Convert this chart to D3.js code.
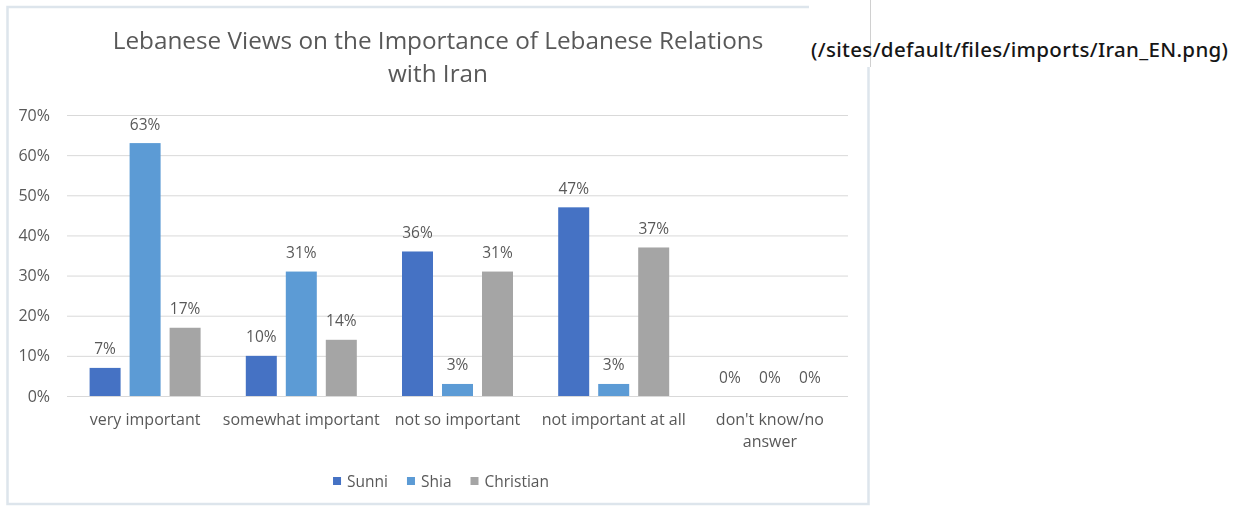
<!DOCTYPE html>
<html>
<head>
<meta charset="utf-8">
<script src="https://cdn.jsdelivr.net/npm/d3@7"></script>
<style>
  html, body { margin: 0; padding: 0; background: #fff; }
  svg { display: block; }
</style>
</head>
<body>
<svg id="chart" width="1233" height="507"></svg>
<script>
// Survey responses by sect (percent of respondents)
const categories = ["very important", "somewhat important", "not so important", "not important at all", "don't know/no answer"];
const seriesNames = ["Sunni", "Shia", "Christian"];
const sunni = [7, 10, 36, 47, 0];
const shia = [63, 31, 3, 3, 0];
const christian = [17, 14, 31, 37, 0];
const yTicks = [0, 10, 20, 30, 40, 50, 60, 70];
const seriesColors = ["#4472C4", "#5B9BD5", "#A5A5A5"];
const titleLines = ["Lebanese Views on the Importance of Lebanese Relations", "with Iran"];
const captionText = "(/sites/default/files/imports/Iran_EN.png)";

const values = [sunni, shia, christian];
const rows = categories.map((c, i) => ({
  category: c,
  items: seriesNames.map((s, j) => ({ series: s, value: values[j][i] }))
}));

const svg = d3.select("#chart");
const textColor = "#595959";
const font = "'Open Sans', 'Noto Sans', sans-serif";

// slight softening of the embedded chart image
svg.append("defs").append("filter").attr("id", "soft")
  .attr("x", "-2%").attr("y", "-2%").attr("width", "104%").attr("height", "104%")
  .append("feGaussianBlur").attr("stdDeviation", 0.45);

const chart = svg.append("g").attr("filter", "url(#soft)");

// chart frame
chart.append("rect")
  .attr("x", 7.5).attr("y", 7).attr("width", 861).attr("height", 497)
  .attr("fill", "#fff").attr("stroke", "#dde5ec").attr("stroke-width", 2.5);

const plot = { left: 67, right: 848, top: 115, bottom: 396 };

const y = d3.scaleLinear().domain([0, 70]).range([plot.bottom, plot.top]);
const x0 = d3.scaleBand().domain(categories).range([plot.left, plot.right]).padding(0);
const x1 = d3.scaleBand().domain(seriesNames).range([-60, 60]).paddingInner(0.225).paddingOuter(0.1125);
const color = d3.scaleOrdinal().domain(seriesNames).range(seriesColors);

// gridlines + y labels
const yAxis = d3.axisLeft(y).tickValues(yTicks).tickFormat(d => d + "%")
  .tickSize(-(plot.right - plot.left)).tickPadding(17);
const ya = chart.append("g").attr("transform", `translate(${plot.left},0)`).call(yAxis);
ya.select(".domain").remove();
ya.selectAll(".tick line").attr("stroke", "#d9d9d9").attr("stroke-width", 1);
ya.selectAll(".tick text").attr("fill", textColor).attr("font-size", 16).attr("font-family", font);

// bars
const groups = chart.append("g").selectAll("g").data(rows).join("g")
  .attr("transform", d => `translate(${x0(d.category) + x0.bandwidth() / 2},0)`);

groups.selectAll("rect").data(d => d.items).join("rect")
  .attr("x", d => x1(d.series))
  .attr("width", x1.bandwidth())
  .attr("y", d => y(d.value))
  .attr("height", d => y(0) - y(d.value))
  .attr("fill", d => color(d.series));

groups.selectAll("text.val").data(d => d.items).join("text")
  .attr("class", "val")
  .attr("x", d => x1(d.series) + x1.bandwidth() / 2)
  .attr("y", d => y(d.value) - 13.5)
  .attr("text-anchor", "middle")
  .attr("fill", textColor).attr("font-size", 15.5).attr("font-family", font)
  .text(d => d.value + "%");

// category labels (wrapped)
const xAxis = d3.axisBottom(x0).tickSize(0).tickPadding(0);
const xa = chart.append("g").attr("transform", `translate(0,${plot.bottom})`).call(xAxis);
xa.select(".domain").remove();
xa.selectAll(".tick text").each(function(d) {
  const t = d3.select(this);
  t.text(null).attr("y", 0).attr("dy", null)
    .attr("fill", textColor).attr("font-size", 16).attr("font-family", font);
  const lines = d === "don't know/no answer" ? ["don't know/no", "answer"] : [d];
  lines.forEach((ln, i) => t.append("tspan").attr("x", 0).attr("y", 29 + i * 22).text(ln));
});

// title
chart.append("g").selectAll("text").data(titleLines).join("text")
  .attr("x", 438).attr("y", (d, i) => 49 + i * 33)
  .attr("text-anchor", "middle")
  .attr("fill", textColor).attr("font-size", 24.3).attr("font-family", font)
  .text(d => d);

// legend
const legend = chart.append("g").attr("transform", "translate(0,481)");
const legendItems = legend.selectAll("g").data(seriesNames).join("g");
legendItems.append("rect").attr("width", 8).attr("height", 8).attr("y", -4)
  .attr("fill", d => color(d));
legendItems.append("text").attr("x", 14).attr("y", 5.5)
  .attr("fill", textColor).attr("font-size", 15.5).attr("font-family", font)
  .text(d => d);
let lx = 0;
const offsets = [];
legendItems.each(function() {
  const w = this.getBBox().width;
  offsets.push(lx);
  lx += w + 19;
});
const total = lx - 19;
legendItems.attr("transform", (d, i) => `translate(${441 - total / 2 + offsets[i]},0)`);

// caption overlay covering the frame's top-right corner
svg.append("rect").attr("x", 809).attr("y", 0).attr("width", 424).attr("height", 67).attr("fill", "#fff");
svg.append("rect").attr("x", 871).attr("y", 0).attr("width", 362).attr("height", 507).attr("fill", "#fff");
svg.append("line").attr("x1", 870.5).attr("x2", 870.5).attr("y1", 0).attr("y2", 67)
  .attr("stroke", "#d0d0d0").attr("stroke-width", 1);
svg.append("text").attr("x", 811).attr("y", 57)
  .attr("fill", "#161616").attr("font-size", 20.5).attr("font-weight", 500)
  .attr("font-family", "'Noto Sans', 'Open Sans', sans-serif")
  .attr("textLength", 417).attr("lengthAdjust", "spacing")
  .text(captionText);
</script>
</body>
</html>
